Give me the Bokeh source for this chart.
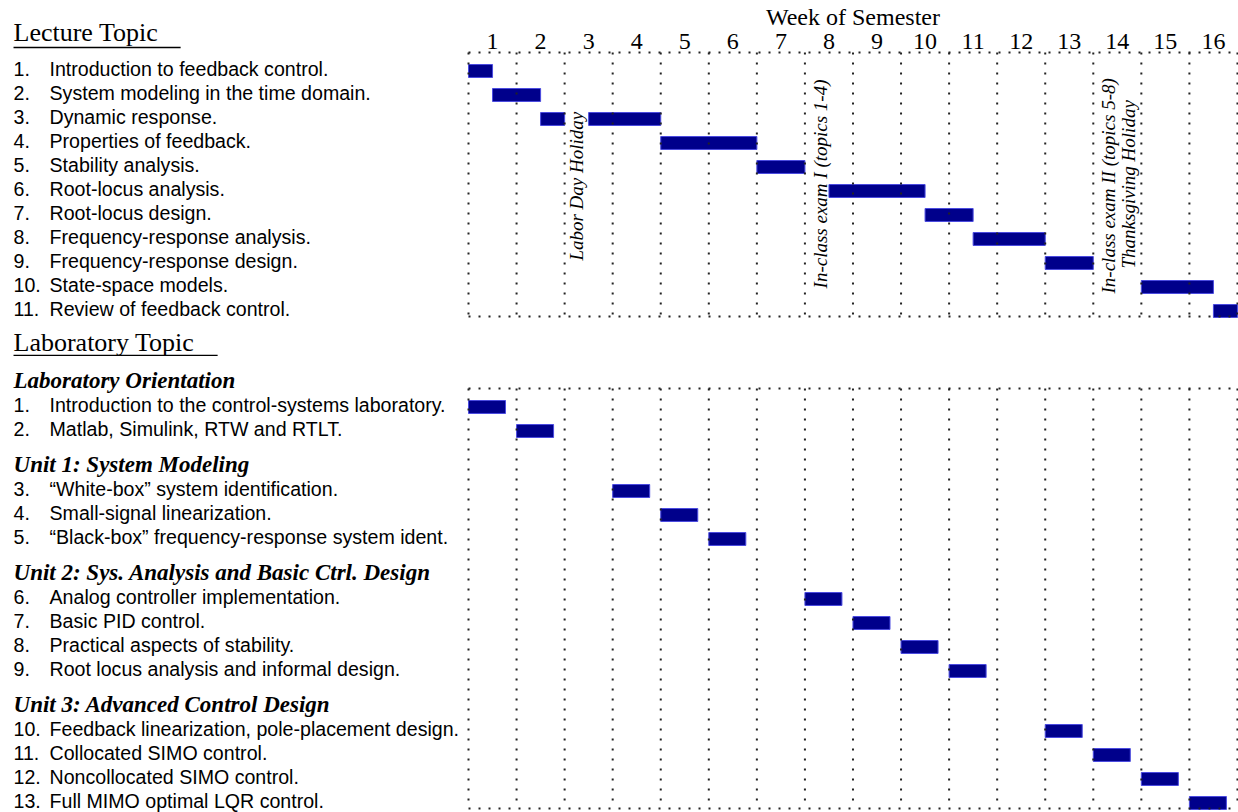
import math
from bokeh.plotting import figure
from bokeh.models import Range1d, ColumnDataSource
from bokeh.core.properties import value
from bokeh.embed import file_html
from bokeh.resources import INLINE

# ---------------- data ----------------
weeks = list(range(1, 17))

lecture_topics = [
    "Introduction to feedback control.",
    "System modeling in the time domain.",
    "Dynamic response.",
    "Properties of feedback.",
    "Stability analysis.",
    "Root-locus analysis.",
    "Root-locus design.",
    "Frequency-response analysis.",
    "Frequency-response design.",
    "State-space models.",
    "Review of feedback control.",
]
# lecture bars (topic number, start week, end week); topic 3 is split by Labor Day
lecture_bar_topic = [1, 2, 3, 3, 4, 5, 6, 7, 8, 9, 10, 11]
lecture_bar_start = [0.0, 0.5, 1.5, 2.5, 4.0, 6.0, 7.5, 9.5, 10.5, 12.0, 14.0, 15.5]
lecture_bar_end = [0.5, 1.5, 2.0, 4.0, 6.0, 7.0, 9.5, 10.5, 12.0, 13.0, 15.5, 16.0]

lab_groups = [
    "Laboratory Orientation",
    "Unit 1: System Modeling",
    "Unit 2: Sys. Analysis and Basic Ctrl. Design",
    "Unit 3: Advanced Control Design",
]
lab_group_sizes = [2, 3, 4, 4]
lab_topics = [
    "Introduction to the control-systems laboratory.",
    "Matlab, Simulink, RTW and RTLT.",
    "\u201cWhite-box\u201d system identification.",
    "Small-signal linearization.",
    "\u201cBlack-box\u201d frequency-response system ident.",
    "Analog controller implementation.",
    "Basic PID control.",
    "Practical aspects of stability.",
    "Root locus analysis and informal design.",
    "Feedback linearization, pole-placement design.",
    "Collocated SIMO control.",
    "Noncollocated SIMO control.",
    "Full MIMO optimal LQR control.",
]
lab_week = [1, 2, 4, 5, 6, 8, 9, 10, 11, 13, 14, 15, 16]
lab_length = [0.77] * 13

events = [
    "Labor Day Holiday",
    "In-class exam I (topics 1-4)",
    "In-class exam II (topics 5-8)",
    "Thanksgiving Holiday",
]
event_week = [2.25, 7.32, 13.32, 13.73]
event_row_bottom = [7.9, 9.06, 9.27, 8.23]

# ---------------- layout (rows) ----------------
lecture_rows = [float(i) for i in range(len(lecture_topics))]

lab_rows, lab_head_rows = [], []
cursor = 13.0
for g, n in zip(lab_groups, lab_group_sizes):
    lab_head_rows.append(cursor)
    for j in range(n):
        lab_rows.append(cursor + 1 + j)
    cursor = cursor + n + 1.5

SANS = value("Liberation Sans")
SERIF = value("Liberation Serif")
BAR_FILL = "#00008B"
BAR_LINE = "#4B4BE0"
DOT = "#222222"
ITEM_SIZE = "19.6px"

p = figure(width=1238, height=812, output_backend="svg", toolbar_location=None,
           x_range=Range1d(-9.738, 16.0216), y_range=Range1d(30.896, -2.9375),
           min_border=0, x_axis_type=None, y_axis_type=None)
p.outline_line_color = None
p.xgrid.visible = False
p.ygrid.visible = False
p.background_fill_color = "white"
p.border_fill_color = "white"

NUM_X = -9.467
TXT_X = -8.718
MID = -0.07

# ---------------- headings ----------------
p.text(x=[NUM_X], y=[-1.6], text=["Lecture Topic"], text_font=SERIF,
       text_font_size="26px", text_baseline="middle", text_align="left", text_color="black")
p.segment(x0=[NUM_X], y0=[-0.98], x1=[-5.99], y1=[-0.98], line_color="black", line_width=1.3)
p.text(x=[NUM_X], y=[11.33], text=["Laboratory Topic"], text_font=SERIF,
       text_font_size="26px", text_baseline="middle", text_align="left", text_color="black")
p.segment(x0=[NUM_X], y0=[11.85], x1=[-5.22], y1=[11.85], line_color="black", line_width=1.3)

# week axis labels
p.text(x=[w - 0.5 for w in weeks], y=[-1.23] * len(weeks), text=[str(w) for w in weeks],
       text_font=SERIF, text_font_size="24px", text_align="center",
       text_baseline="middle", text_color="black")
p.text(x=[8.0], y=[-2.23], text=["Week of Semester"], text_font=SERIF, text_font_size="24px",
       text_align="center", text_baseline="middle", text_color="black")

# ---------------- left lists ----------------
p.text(x=[NUM_X] * len(lecture_topics), y=[r + MID for r in lecture_rows],
       text=[f"{i + 1}." for i in range(len(lecture_topics))], text_font=SANS,
       text_font_size=ITEM_SIZE, text_baseline="middle", text_color="black")
p.text(x=[TXT_X] * len(lecture_topics), y=[r + MID for r in lecture_rows],
       text=lecture_topics, text_font=SANS, text_font_size=ITEM_SIZE,
       text_baseline="middle", text_color="black")

p.text(x=[NUM_X] * len(lab_groups), y=[r - 0.1 for r in lab_head_rows], text=lab_groups,
       text_font=SERIF, text_font_style="bold italic", text_font_size="23px",
       text_baseline="middle", text_color="black")
p.text(x=[NUM_X] * len(lab_topics), y=[r + MID for r in lab_rows],
       text=[f"{i + 1}." for i in range(len(lab_topics))], text_font=SANS,
       text_font_size=ITEM_SIZE, text_baseline="middle", text_color="black")
p.text(x=[TXT_X] * len(lab_topics), y=[r + MID for r in lab_rows],
       text=lab_topics, text_font=SANS, text_font_size=ITEM_SIZE,
       text_baseline="middle", text_color="black")

# ---------------- bars ----------------
HALF = 0.27
lec_src = ColumnDataSource(dict(
    left=lecture_bar_start, right=lecture_bar_end,
    top=[lecture_rows[t - 1] - HALF for t in lecture_bar_topic],
    bottom=[lecture_rows[t - 1] + HALF for t in lecture_bar_topic]))
p.quad(left="left", right="right", top="top", bottom="bottom", source=lec_src,
       fill_color=BAR_FILL, line_color=BAR_LINE, line_width=1)

lab_src = ColumnDataSource(dict(
    left=[w - 1 for w in lab_week], right=[w - 1 + d for w, d in zip(lab_week, lab_length)],
    top=[r - HALF for r in lab_rows], bottom=[r + HALF for r in lab_rows]))
p.quad(left="left", right="right", top="top", bottom="bottom", source=lab_src,
       fill_color=BAR_FILL, line_color=BAR_LINE, line_width=1)

# ---------------- dotted grids ----------------
def grid(top, bottom):
    x0, y0, x1, y1 = [], [], [], []
    for w in range(0, len(weeks) + 1):
        x0.append(w); x1.append(w); y0.append(top); y1.append(bottom)
    for yy in (top, bottom):
        x0.append(0); x1.append(len(weeks)); y0.append(yy); y1.append(yy)
    p.segment(x0=x0, y0=y0, x1=x1, y1=y1, line_color=DOT, line_width=2, line_dash="2 8")

grid(lecture_rows[0] - 0.77, lecture_rows[-1] + 0.23)
grid(lab_rows[0] - 0.77, lab_rows[-1] + 0.23)

# ---------------- vertical event notes ----------------
p.text(x=event_week, y=event_row_bottom, text=events, angle=math.pi / 2,
       text_font=SERIF, text_font_style="italic", text_font_size="19px",
       text_align="left", text_baseline="middle", text_color="black")

open("out.html", "w").write(file_html(p, INLINE))
